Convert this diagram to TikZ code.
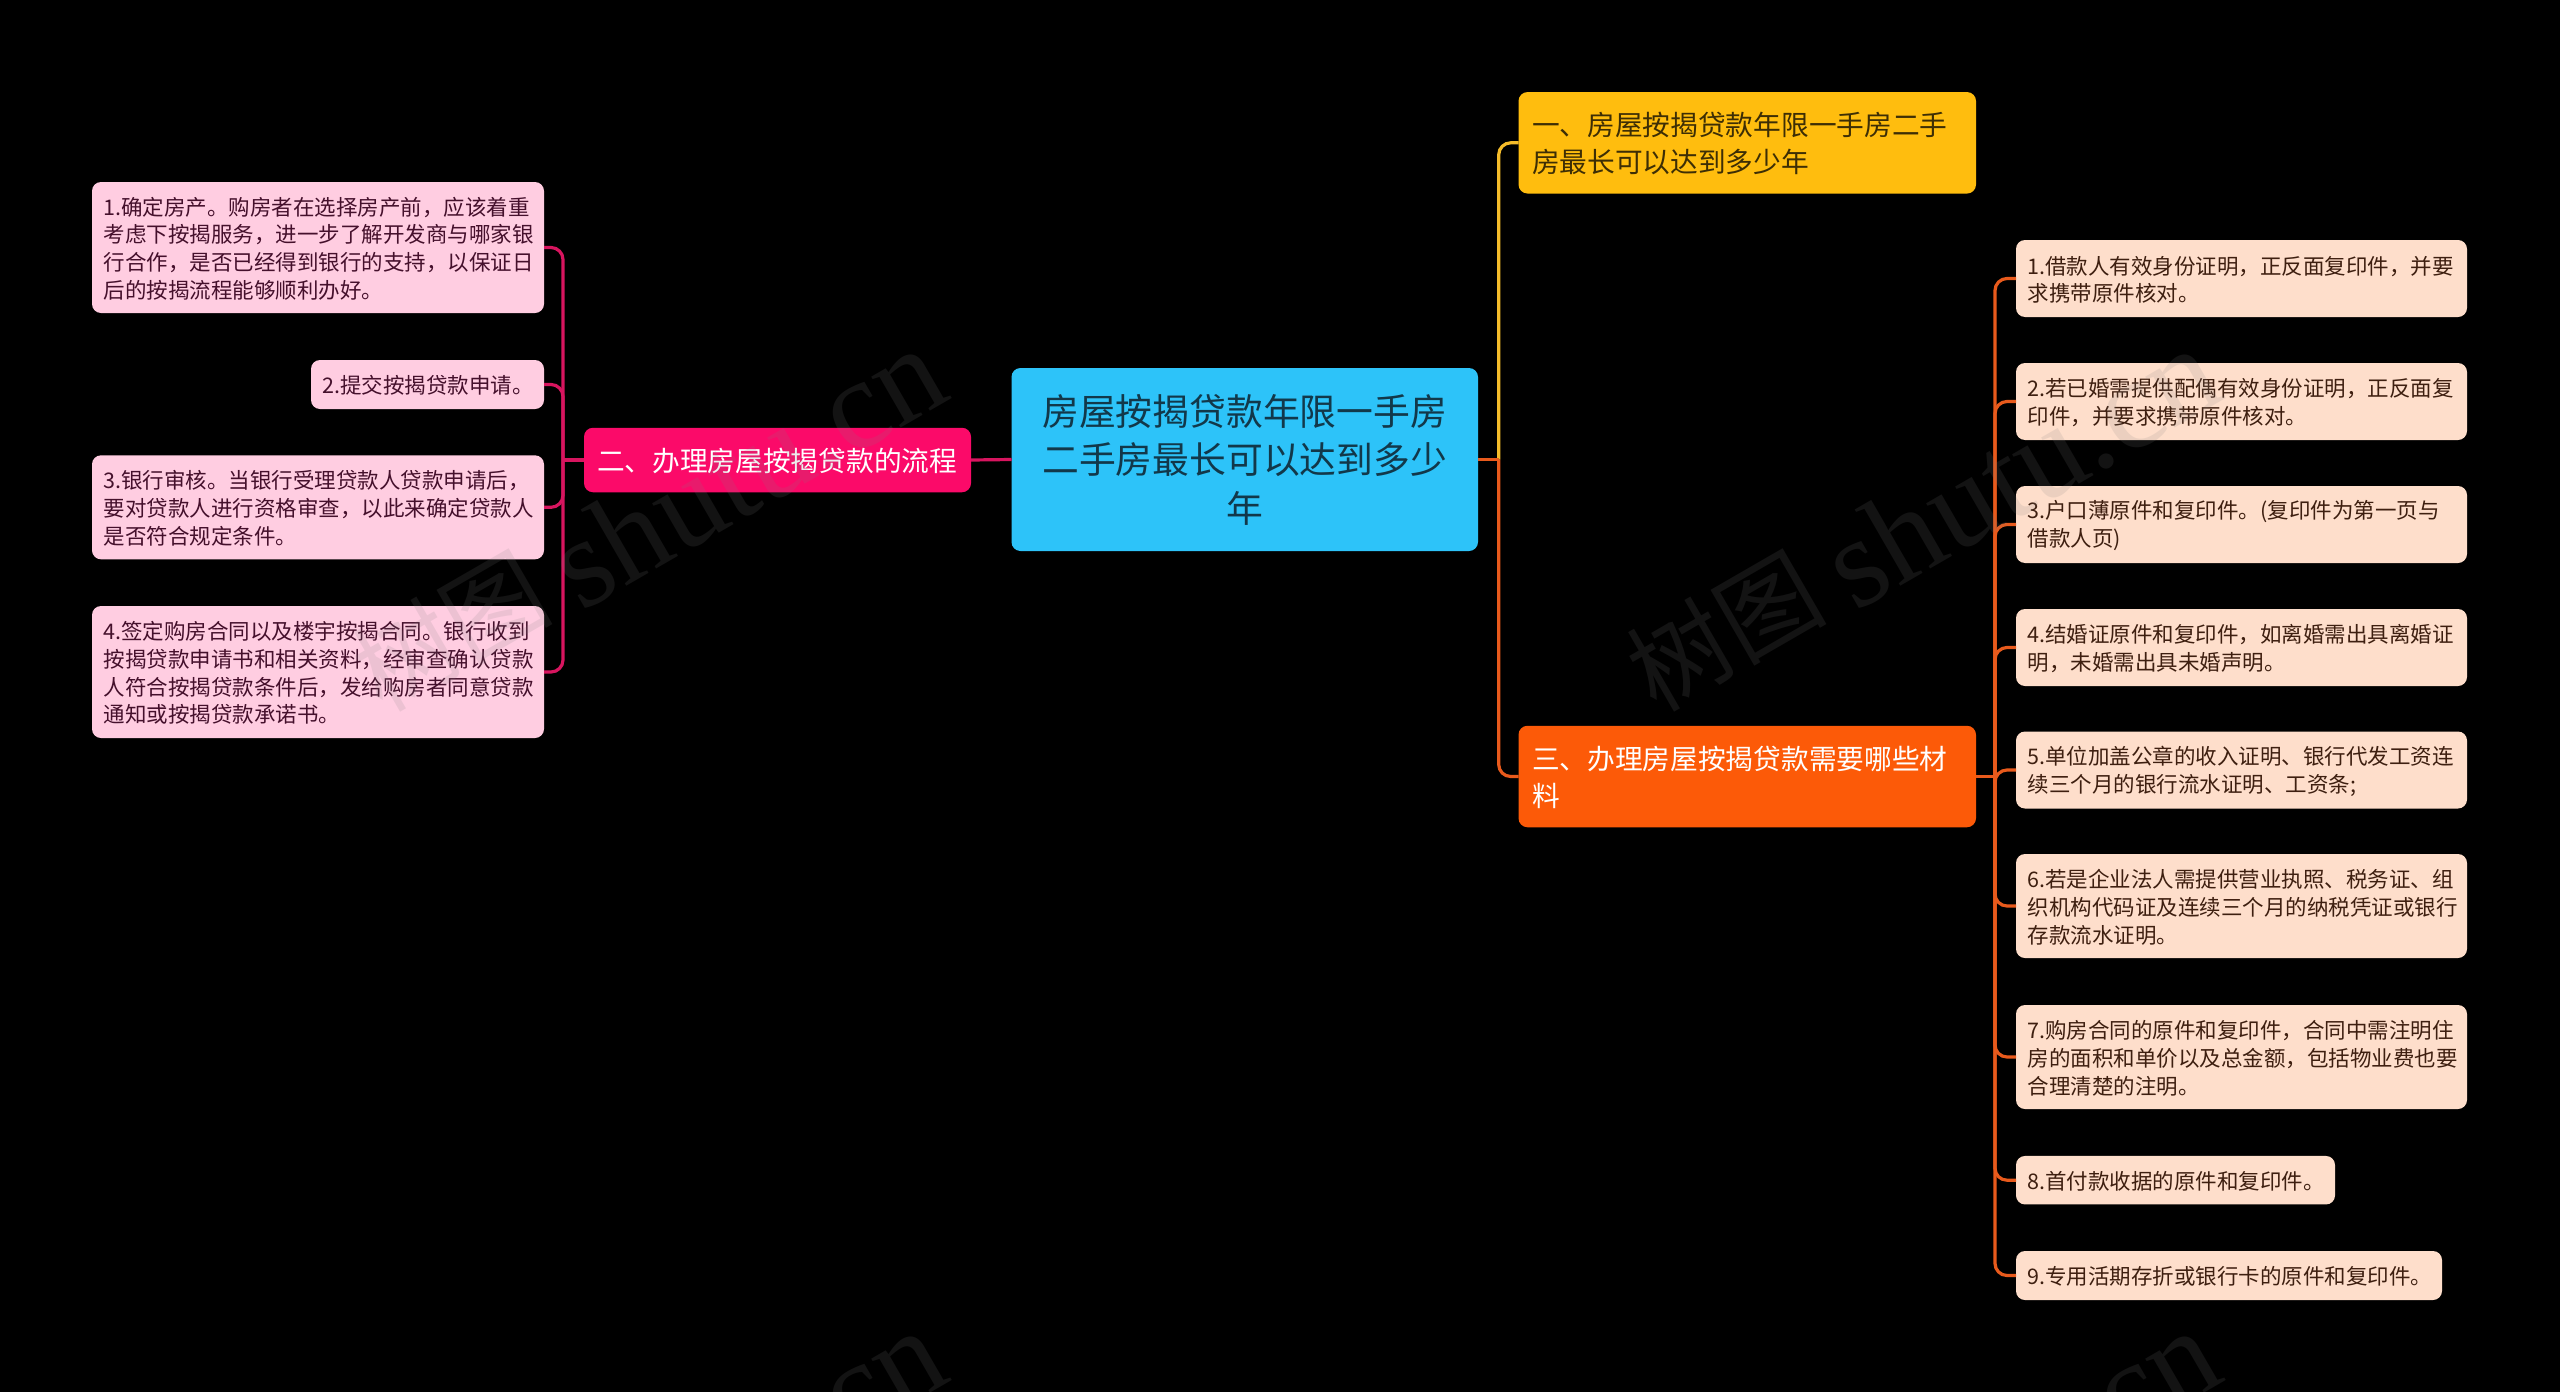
\documentclass[tikz,border=0pt]{standalone}
\usepackage{fontspec}
\setmainfont{Noto Sans CJK SC}
\newfontfamily\wmlatin{Liberation Serif}
\definecolor{rootc}{HTML}{2DC3F9}
\definecolor{pinkc}{HTML}{FB0A69}
\definecolor{yelc}{HTML}{FFBD0E}
\definecolor{orac}{HTML}{FC5A08}
\definecolor{lpink}{HTML}{FFCDE1}
\definecolor{lora}{HTML}{FEDECB}
\definecolor{pinkl}{HTML}{D8155F}
\definecolor{oral}{HTML}{E85A1C}
\definecolor{yell}{HTML}{F5BC2A}
\definecolor{inkroot}{HTML}{12384A}
\definecolor{inkyel}{HTML}{3D2E05}
\definecolor{inkpink}{HTML}{45102C}
\definecolor{inkora}{HTML}{3E1F10}
\tikzset{
  x=1pt,y=-1pt,
  boxbase/.style={rounded corners=9pt,inner sep=0pt,outer sep=0pt,align=left},
  rootbox/.style={boxbase,fill=rootc,text=inkroot,align=center,minimum width=466.5pt,minimum height=183pt,text width=440pt,font=\fontsize{36.8}{48.5}\selectfont},
  mainbox/.style={boxbase,text height=25.2pt,minimum height=101.5pt,minimum width=457.5pt,text width=430.5pt,font=\fontsize{27.7}{37}\selectfont},
  leaf/.style={boxbase,text height=20.5pt,text width=#1-23pt,minimum width=#1,font=\fontsize{21.5}{27.7}\selectfont},
  leafpink/.style={leaf=#1,fill=lpink,text=inkpink},
  leaforange/.style={leaf=#1,fill=lora,text=inkora},
  link/.style={line width=3.2pt},
  branch/.style={link,rounded corners=12pt},
  mark text/.style={rotate=30,text=gray,opacity=0.15,font=\fontsize{100}{100}\selectfont,inner sep=0pt}
}
\newcommand{\wmark}{\raisebox{12pt}{树图}\ {\wmlatin\fontsize{128}{128}\selectfont shutu.cn}}
\begin{document}
\begin{tikzpicture}
\useasboundingbox (0,0) rectangle (2560,1392);
\fill[black] (0,0) rectangle (2560,1392);

\node[rootbox] (root) at (1244.75,459.5) {房屋按揭贷款年限一手房\\二手房最长可以达到多少\\年};
\node[mainbox,minimum width=387pt,minimum height=64.5pt,text width=361pt,fill=pinkc,text=white] (two) at (777.5,460) {二、办理房屋按揭贷款的流程};
\node[mainbox,fill=yelc,text=inkyel] (one) at (1747.25,142.8) {一、房屋按揭贷款年限一手房二手\\房最长可以达到多少年};
\node[mainbox,fill=orac,text=white] (three) at (1747.25,776.5) {三、办理房屋按揭贷款需要哪些材\\料};

\node[leafpink=452pt,minimum height=131pt] (p1) at (318,247.5) {1.确定房产。购房者在选择房产前，应该着重\\考虑下按揭服务，进一步了解开发商与哪家银\\行合作，是否已经得到银行的支持，以保证日\\后的按揭流程能够顺利办好。};
\node[leafpink=233pt,minimum height=49pt] (p2) at (427.5,384.5) {2.提交按揭贷款申请。};
\node[leafpink=452pt,minimum height=104pt] (p3) at (318,507.3) {3.银行审核。当银行受理贷款人贷款申请后，\\要对贷款人进行资格审查，以此来确定贷款人\\是否符合规定条件。};
\node[leafpink=452pt,minimum height=132pt] (p4) at (318,672) {4.签定购房合同以及楼宇按揭合同。银行收到\\按揭贷款申请书和相关资料，经审查确认贷款\\人符合按揭贷款条件后，发给购房者同意贷款\\通知或按揭贷款承诺书。};

\node[leaforange=451pt,minimum height=77pt] (o1) at (2241.5,278.5) {1.借款人有效身份证明，正反面复印件，并要\\求携带原件核对。};
\node[leaforange=451pt,minimum height=77pt] (o2) at (2241.5,401.5) {2.若已婚需提供配偶有效身份证明，正反面复\\印件，并要求携带原件核对。};
\node[leaforange=451pt,minimum height=77pt] (o3) at (2241.5,524.5) {3.户口薄原件和复印件。(复印件为第一页与\\借款人页)};
\node[leaforange=451pt,minimum height=77pt] (o4) at (2241.5,647.5) {4.结婚证原件和复印件，如离婚需出具离婚证\\明，未婚需出具未婚声明。};
\node[leaforange=451pt,minimum height=77pt] (o5) at (2241.5,770) {5.单位加盖公章的收入证明、银行代发工资连\\续三个月的银行流水证明、工资条;};
\node[leaforange=451pt,minimum height=104pt] (o6) at (2241.5,906) {6.若是企业法人需提供营业执照、税务证、组\\织机构代码证及连续三个月的纳税凭证或银行\\存款流水证明。};
\node[leaforange=451pt,minimum height=104pt] (o7) at (2241.5,1057) {7.购房合同的原件和复印件，合同中需注明住\\房的面积和单价以及总金额，包括物业费也要\\合理清楚的注明。};
\node[leaforange=319pt,minimum height=48.5pt] (o8) at (2175.5,1180.2) {8.首付款收据的原件和复印件。};
\node[leaforange=426pt,minimum height=49pt] (o9) at (2229,1275.5) {9.专用活期存折或银行卡的原件和复印件。};

\coordinate (tl) at (563,0);
\coordinate (tr) at (1498.7,0);
\coordinate (tq) at (1995,0);

\draw[link,pinkl] (two.east) -- (root.west);
\draw[branch,yell] (tr |- root.east) |- (one.west);
\draw[branch,oral] (tr |- root.east) |- (three.west);
\draw[link,oral] (root.east) -- (tr |- root.east);
\draw[link,pinkl] (two.west) -- (tl |- two.west);
\foreach \c in {p1,p2,p3,p4}{\draw[branch,pinkl] (tl |- two.west) |- (\c.east);}
\draw[link,oral] (three.east) -- (tq |- three.east);
\foreach \c in {o1,o2,o3,o4,o5,o6,o7,o8,o9}{\draw[branch,oral] (tq |- three.east) |- (\c.west);}

\begin{scope}
\clip (0,0) rectangle (2560,1392);
\node[mark text] (w1) at (648,520) {\wmark};
\node[mark text] (w2) at (1922,520) {\wmark};
\node[mark text] (w3) at (648,1502) {\wmark};
\node[mark text] (w4) at (1922,1502) {\wmark};
\end{scope}
\end{tikzpicture}
\end{document}
